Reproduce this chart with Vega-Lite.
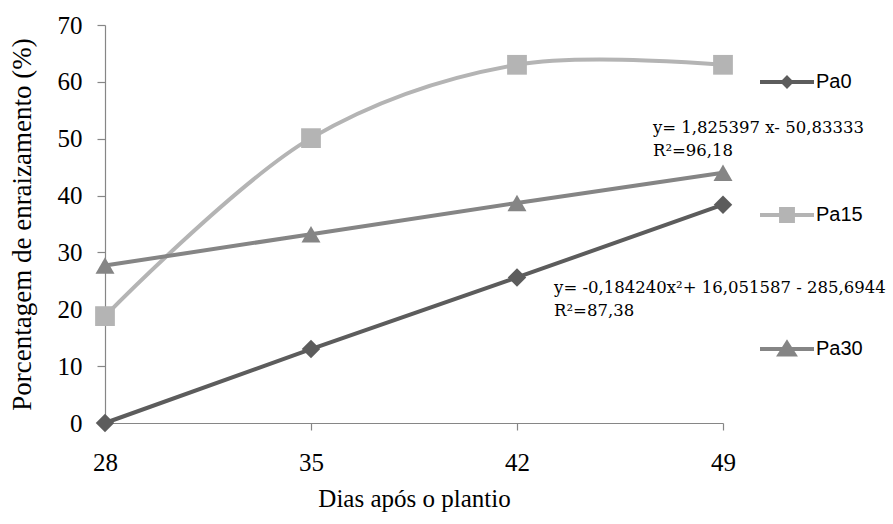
{
  "$schema": "https://vega.github.io/schema/vega-lite/v6.json",
  "width": 618,
  "height": 398,
  "autosize": {"type": "none"},
  "padding": {"left": 105, "top": 25, "right": 170, "bottom": 101},
  "background": "white",
  "config": {
    "view": {"stroke": null},
    "axis": {
      "grid": false,
      "domainColor": "#868686",
      "domainWidth": 1.2,
      "tickColor": "#868686",
      "tickWidth": 1.2,
      "labelFont": "Liberation Serif",
      "labelFontSize": 25,
      "labelColor": "#000000",
      "titleFont": "Liberation Serif",
      "titleFontWeight": "normal",
      "titleColor": "#000000"
    }
  },
  "datasets": {
    "series": [
      {"series": "Pa0", "dias": 28, "pct": 0},
      {"series": "Pa0", "dias": 35, "pct": 13},
      {"series": "Pa0", "dias": 42, "pct": 25.6},
      {"series": "Pa0", "dias": 49, "pct": 38.4},
      {"series": "Pa15", "dias": 28, "pct": 18.8},
      {"series": "Pa15", "dias": 35, "pct": 50.1},
      {"series": "Pa15", "dias": 42, "pct": 63},
      {"series": "Pa15", "dias": 49, "pct": 63},
      {"series": "Pa30", "dias": 28, "pct": 27.7},
      {"series": "Pa30", "dias": 35, "pct": 33.2},
      {"series": "Pa30", "dias": 42, "pct": 38.7},
      {"series": "Pa30", "dias": 49, "pct": 44}
    ],
    "notes": [
      {"dias": 46.62, "pct": 53.3, "label": "y= 1,825397 x- 50,83333\nR²=96,18"},
      {"dias": 43.26, "pct": 25.2, "label": "y= -0,184240x²+ 16,051587 - 285,6944\nR²=87,38"}
    ]
  },
  "data": {"name": "series"},
  "encoding": {
    "x": {
      "field": "dias",
      "type": "quantitative",
      "title": "Dias após o plantio",
      "scale": {"domain": [28, 49], "nice": false, "zero": false},
      "axis": {"values": [28, 35, 42, 49], "tickSize": 7, "labelPadding": 20, "titlePadding": 11, "titleFontSize": 25, "labelFlush": false}
    },
    "y": {
      "field": "pct",
      "type": "quantitative",
      "title": "Porcentagem de enraizamento (%)",
      "scale": {"domain": [0, 70], "nice": false},
      "axis": {"values": [0, 10, 20, 30, 40, 50, 60, 70], "tickSize": 8, "labelPadding": 15, "titlePadding": 21, "titleFontSize": 27, "labelFlush": false}
    }
  },
  "layer": [
    {
      "transform": [{"filter": "datum.series === 'Pa15'"}],
      "mark": {"type": "line", "strokeWidth": 4, "interpolate": "catmull-rom"},
      "encoding": {
        "color": {"field": "series", "type": "nominal", "scale": {"domain": ["Pa0", "Pa15", "Pa30"], "range": ["#5c5c5c", "#b4b4b4", "#858585"]}, "legend": null}
      }
    },
    {
      "transform": [{"filter": "datum.series !== 'Pa15'"}],
      "mark": {"type": "line", "strokeWidth": 4},
      "encoding": {
        "color": {"field": "series", "type": "nominal", "scale": {"domain": ["Pa0", "Pa15", "Pa30"], "range": ["#5c5c5c", "#b4b4b4", "#858585"]}, "legend": null}
      }
    },
    {
      "transform": [{"filter": "datum.series === 'Pa0'"}],
      "mark": {"type": "point", "filled": true, "opacity": 1, "size": 340, "shape": "diamond"},
      "encoding": {
        "color": {"field": "series", "type": "nominal", "scale": {"domain": ["Pa0", "Pa15", "Pa30"], "range": ["#5c5c5c", "#b4b4b4", "#858585"]}, "legend": null}
      }
    },
    {
      "transform": [{"filter": "datum.series === 'Pa15'"}],
      "mark": {"type": "point", "filled": true, "opacity": 1, "size": 390, "shape": "square"},
      "encoding": {
        "color": {"field": "series", "type": "nominal", "scale": {"domain": ["Pa0", "Pa15", "Pa30"], "range": ["#5c5c5c", "#b4b4b4", "#858585"]}, "legend": null}
      }
    },
    {
      "transform": [{"filter": "datum.series === 'Pa30'"}],
      "mark": {"type": "point", "filled": true, "opacity": 1, "size": 360, "shape": "triangle-up"},
      "encoding": {
        "color": {"field": "series", "type": "nominal", "scale": {"domain": ["Pa0", "Pa15", "Pa30"], "range": ["#5c5c5c", "#b4b4b4", "#858585"]}, "legend": null}
      }
    },
    {
      "mark": {"type": "point", "filled": false, "opacity": 0, "strokeWidth": 4},
      "encoding": {
        "stroke": {
          "field": "series", "type": "nominal",
          "scale": {"domain": ["Pa0", "Pa15", "Pa30"], "range": ["#5c5c5c", "#b4b4b4", "#858585"]},
          "legend": {"title": null, "orient": "none", "legendX": 653, "legendY": 28, "padding": 0, "symbolSize": 2916, "symbolStrokeWidth": 4, "symbolOpacity": 1, "symbolStrokeColor": "#808080", "rowPadding": 91, "labelOffset": 0, "labelFont": "Liberation Sans", "labelFontSize": 20, "labelColor": "#000000"}
        },
        "shape": {
          "field": "series",
          "type": "nominal",
          "scale": {"domain": ["Pa0", "Pa15", "Pa30"], "range": [
            "M-1,0H1M0,-0.15L0.15,0L0,0.15L-0.15,0ZM0,-0.05L0.05,0L0,0.05L-0.05,0Z",
            "M-1,0H1M-0.22,-0.22H0.22V0.22H-0.22ZM-0.15,-0.15H0.15V0.15H-0.15ZM-0.07,-0.07H0.07V0.07H-0.07Z",
            "M-1,0H1M0,-0.22L0.27,0.2H-0.27ZM0,-0.1L0.14,0.12H-0.14ZM0,-0.01L0.04,0.05H-0.04Z"
          ]},
          "legend": {"title": null, "orient": "none", "legendX": 653, "legendY": 28, "padding": 0, "symbolSize": 2916, "symbolStrokeWidth": 4, "symbolOpacity": 1, "symbolStrokeColor": "#808080", "rowPadding": 91, "labelOffset": 0, "labelFont": "Liberation Sans", "labelFontSize": 20, "labelColor": "#000000"}
        }
      }
    },
    {
      "data": {"name": "notes"},
      "mark": {"type": "text", "align": "left", "baseline": "top", "lineBreak": "\n", "font": "DejaVu Serif", "fontSize": 16.5, "lineHeight": 23, "color": "#000000"},
      "encoding": {
        "text": {"field": "label", "type": "nominal"}
      }
    }
  ],
  "resolve": {"legend": {"stroke": "independent", "shape": "independent"}}
}
